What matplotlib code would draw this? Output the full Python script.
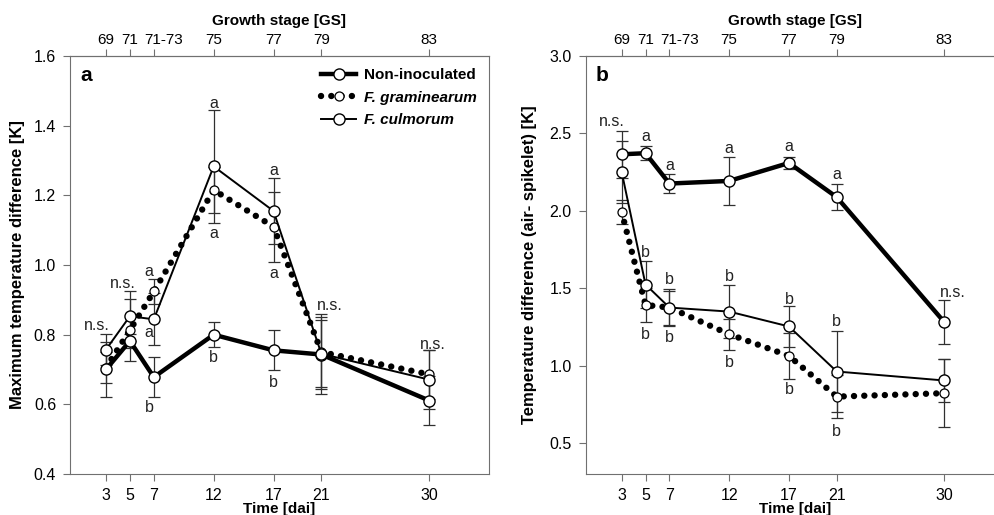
#!/usr/bin/env python3
import numpy as np
import matplotlib.pyplot as plt
import matplotlib.transforms as mtransforms

plt.rcParams['font.family'] = ['Liberation Sans', 'DejaVu Sans']

days = [3, 5, 7, 12, 17, 21, 30]
gs_labels = ["69", "71", "71-73", "75", "77", "79", "83"]

# panel a: maximum temperature difference [K]
a_non = [0.70, 0.782, 0.678, 0.80, 0.755, 0.743, 0.611]
a_non_err = [0.08, 0.02, 0.057, 0.035, 0.057, 0.10, 0.07]
a_gram = [0.705, 0.813, 0.924, 1.215, 1.11, 0.75, 0.686]
a_gram_err = [0.045, 0.09, 0.037, 0.065, 0.10, 0.10, 0.07]
a_culm = [0.757, 0.853, 0.844, 1.283, 1.155, 0.745, 0.671]
a_culm_err = [0.045, 0.072, 0.075, 0.163, 0.095, 0.115, 0.085]

# panel b: temperature difference (air - spikelet) [K]
b_non = [2.365, 2.372, 2.176, 2.193, 2.309, 2.088, 1.281]
b_non_err = [0.15, 0.045, 0.06, 0.155, 0.04, 0.085, 0.14]
b_gram = [1.993, 1.392, 1.375, 1.203, 1.063, 0.80, 0.822]
b_gram_err = [0.08, 0.11, 0.11, 0.10, 0.15, 0.14, 0.22]
b_culm = [2.253, 1.524, 1.375, 1.349, 1.253, 0.962, 0.904]
b_culm_err = [0.20, 0.15, 0.12, 0.17, 0.13, 0.26, 0.14]

# significance letters: (x, y, text)
a_letters = [(2.2, 0.827, "n.s."), (4.4, 0.948, "n.s."), (6.6, 0.98, "a"),
             (6.6, 0.805, "a"), (6.6, 0.592, "b"), (12, 1.464, "a"),
             (12, 1.09, "a"), (12, 0.734, "b"), (17, 1.272, "a"),
             (17, 0.977, "a"), (17, 0.664, "b"), (21.7, 0.884, "n.s."),
             (30.3, 0.772, "n.s.")]
b_letters = [(2.2, 2.576, "n.s."), (5, 2.479, "a"), (5, 1.728, "b"),
             (5, 1.199, "b"), (7, 2.292, "a"), (7, 1.558, "b"),
             (7, 1.18, "b"), (12, 2.40, "a"), (12, 1.575, "b"),
             (12, 1.02, "b"), (17, 2.415, "a"), (17, 1.43, "b"),
             (17, 0.844, "b"), (21, 2.232, "a"), (21, 1.285, "b"),
             (21, 0.575, "b"), (30.7, 1.472, "n.s.")]

fig = plt.figure(figsize=(9.95, 5.15), dpi=100)
ax1 = fig.add_axes([0.0704, 0.0796, 0.421, 0.8117])
ax2 = fig.add_axes([0.5887, 0.0796, 0.4204, 0.8117])

spine_col = "#707070"
err_col = "#303030"


def draw_panel(ax, non, non_err, gram, gram_err, culm, culm_err, letters):
    for y, e in [(non, non_err), (gram, gram_err), (culm, culm_err)]:
        ax.errorbar(days, y, yerr=e, fmt='none', ecolor=err_col,
                    elinewidth=0.9, capsize=4.5, capthick=0.9, zorder=2)
    ax.plot(days, gram, color='black', linewidth=4.6,
            linestyle=(0, (0.01, 1.6)), dash_capstyle='round',
            marker='o', markersize=6.5, markerfacecolor='white',
            markeredgecolor='black', markeredgewidth=0.9, zorder=3,
            label="F. graminearum")
    ax.plot(days, non, color='black', linewidth=3.2, marker='o',
            markersize=8, markerfacecolor='white', markeredgecolor='black',
            markeredgewidth=1.0, zorder=4, label="Non-inoculated")
    ax.plot(days, culm, color='black', linewidth=1.4, marker='o',
            markersize=8, markerfacecolor='white', markeredgecolor='black',
            markeredgewidth=1.0, zorder=5, label="F. culmorum")
    for x, y, t in letters:
        ax.text(x, y, t, ha='center', va='center', fontsize=11.5,
                color='#222222')
    ax.set_xlim(0, 35)
    ax.set_xticks(days)
    ax.set_xticklabels([str(d) for d in days])
    ax.set_xlabel("Time [dai]", fontsize=11, fontweight='bold', labelpad=-1)
    for s in ['left', 'bottom', 'top', 'right']:
        ax.spines[s].set_color(spine_col)
    ax.tick_params(direction='out', length=5, color=spine_col,
                   labelsize=11.5, pad=5)
    top = ax.secondary_xaxis('top')
    top.set_xticks(days)
    top.set_xticklabels(gs_labels)
    top.tick_params(direction='out', length=5, color=spine_col,
                    labelsize=11, pad=1.5)
    top.spines['top'].set_color(spine_col)
    top.set_xlabel("Growth stage [GS]", fontsize=11, fontweight='bold',
                   labelpad=6)
    # the 71-73 label sits a little right of its tick in the original
    lab = top.get_xticklabels()[2]
    lab.set_transform(lab.get_transform() +
                      mtransforms.ScaledTranslation(7 / 72, 0,
                                                    fig.dpi_scale_trans))
    return top


draw_panel(ax1, a_non, a_non_err, a_gram, a_gram_err, a_culm, a_culm_err,
           a_letters)
ax1.set_ylim(0.4, 1.6)
ax1.set_yticks(np.arange(0.4, 1.61, 0.2))
ax1.set_yticklabels(["%.1f" % v for v in np.arange(0.4, 1.61, 0.2)])
ax1.set_ylabel("Maximum temperature difference [K]", fontsize=12,
               fontweight='bold', labelpad=6)
ax1.text(0.85, 1.545, "a", fontsize=15, fontweight='bold', va='center')

handles, labels = ax1.get_legend_handles_labels()
order = [1, 0, 2]
leg = ax1.legend([handles[i] for i in order], [labels[i] for i in order],
                 loc='upper right', frameon=False, handlelength=2.3,
                 fontsize=11, borderaxespad=0.4, handletextpad=0.5,
                 labelspacing=0.55)
for t in leg.get_texts():
    t.set_fontweight('bold')
    if t.get_text().startswith("F."):
        t.set_fontstyle('italic')

draw_panel(ax2, b_non, b_non_err, b_gram, b_gram_err, b_culm, b_culm_err,
           b_letters)
ax2.set_ylim(0.3, 3.0)
ax2.set_yticks(np.arange(0.5, 3.01, 0.5))
ax2.set_yticklabels(["%.1f" % v for v in np.arange(0.5, 3.01, 0.5)])
ax2.set_ylabel("Temperature difference (air- spikelet) [K]", fontsize=12,
               fontweight='bold', labelpad=9)
ax2.text(0.8, 2.877, "b", fontsize=15, fontweight='bold', va='center')

fig.savefig("out.png", dpi=100)
